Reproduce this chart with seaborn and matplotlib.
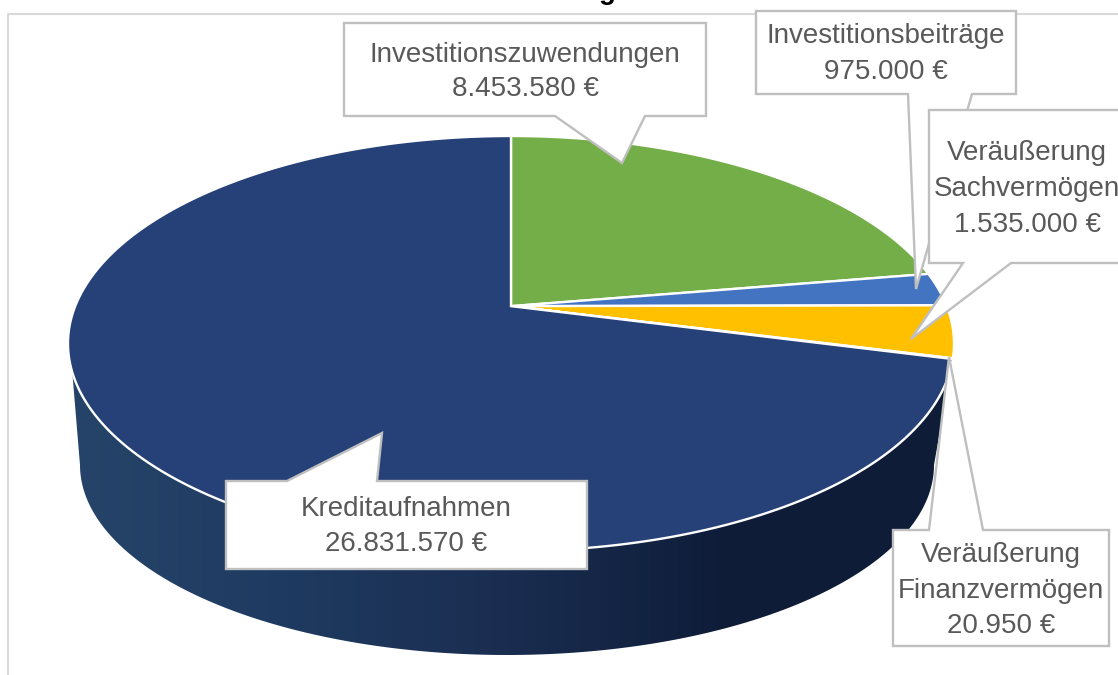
import numpy as np
import matplotlib
matplotlib.use("Agg")
import matplotlib.pyplot as plt
from matplotlib.patches import Polygon
import seaborn as sns

# --- data ---
labels = ["Investitionszuwendungen", "Investitionsbeiträge", "Veräußerung\nSachvermögen",
          "Veräußerung\nFinanzvermögen", "Kreditaufnahmen"]
values = [8453580, 975000, 1535000, 20950, 26831570]
colors = ["#74AE48", "#4274C2", "#FFC000", "#264078", "#264078"]

sns.set_theme(style="white")
plt.rcParams["font.family"] = ["Liberation Sans", "DejaVu Sans"]

fig = plt.figure(figsize=(11.18, 6.75), dpi=100)
ax = fig.add_axes([0, 0, 1, 1])
ax.axis("off")

# top ellipse of the pie, apex sits above its centre because of the perspective
cx, cy, rx, ry = 511, 343.5, 443, 207.5
apex = 0.18


def rim(t):
    # t clockwise from 12 o'clock, circle -> perspective ellipse
    x, y = np.sin(t), np.cos(t)
    d = 1 + apex * y
    return np.column_stack([cx + rx * x * np.sqrt(1 - apex**2) / d, cy - ry * (y + apex) / d])


# side wall with horizontal gradient
a = np.linspace(np.radians(6), np.radians(172), 300)
top_edge = np.column_stack([cx + rx * np.cos(a), cy + ry * np.sin(a)])
b = np.linspace(np.pi, 0, 300)
low_edge = np.column_stack([507 + 427 * np.cos(b), 465 + 190 * np.sin(b)])
wall = Polygon(np.vstack([top_edge, low_edge]), closed=True, fc="none", ec="none")
ax.add_patch(wall)
grad = sns.blend_palette(["#264469", "#1F3A60", "#1A2D50", "#0E1C38", "#0E1C38"], 256)
img = ax.imshow(np.array(grad)[None, :, :], extent=[68, 950, 660, 340], aspect="auto", zorder=1)
img.set_clip_path(wall)
ax.set_xlim(0, 1118)
ax.set_ylim(675, 0)

# top face
edges = np.cumsum([0] + values) / sum(values) * 2 * np.pi
for i in range(len(values)):
    tt = np.linspace(edges[i], edges[i + 1], max(int((edges[i + 1] - edges[i]) * 120), 3))
    pts = np.vstack([[cx, cy - ry * apex], rim(tt)])
    ax.add_patch(Polygon(pts, closed=True, fc=colors[i], ec="white", lw=1.7, zorder=2))

# chart frame
ax.plot([8, 8, 1118], [675, 14, 14], color="#D9D9D9", lw=1.5, zorder=0)
ax.text(607, -1, "g", fontsize=20, fontweight="bold", color="black", ha="center", va="baseline", clip_on=True)


# callouts
def callout(box, base, tip, label, value, tx, line_y, z):
    x0, y0, x1, y1 = box
    if base[2] == y0:
        pts = [(x0, y0), (base[0], y0), tip, (base[1], y0), (x1, y0), (x1, y1), (x0, y1)]
    else:
        pts = [(x0, y0), (x1, y0), (x1, y1), (base[1], y1), tip, (base[0], y1), (x0, y1)]
    ax.add_patch(Polygon(pts, closed=True, fc="white", ec="#BFBFBF", lw=1.7, zorder=z, joinstyle="miter"))
    txt = f"{value:,}".replace(",", ".") + " €"
    for s, y in zip(label.split("\n") + [txt], line_y):
        ax.text(tx, y, s, fontsize=20, color="#595959", ha="center", va="center", zorder=z)


callout((344, 23, 706, 116), (555, 645, 116), (622, 163), labels[0], values[0], 525, (55, 89), 5)
callout((756, 11, 1016, 94), (908, 972, 94), (916, 289), labels[1], values[1], 886, (36, 72), 5)
callout((929, 110, 1125, 263), (963, 1011, 263), (911, 339), labels[2], values[2], 1027, (153, 189, 225), 6)
callout((893, 530, 1109, 646), (929, 983, 530), (949, 357), labels[3], values[3], 1001, (555, 591, 626), 5)
callout((226, 481, 587, 569), (287, 377, 481), (382, 433), labels[4], values[4], 406, (509, 544), 5)

fig.savefig("out.png", dpi=100)
